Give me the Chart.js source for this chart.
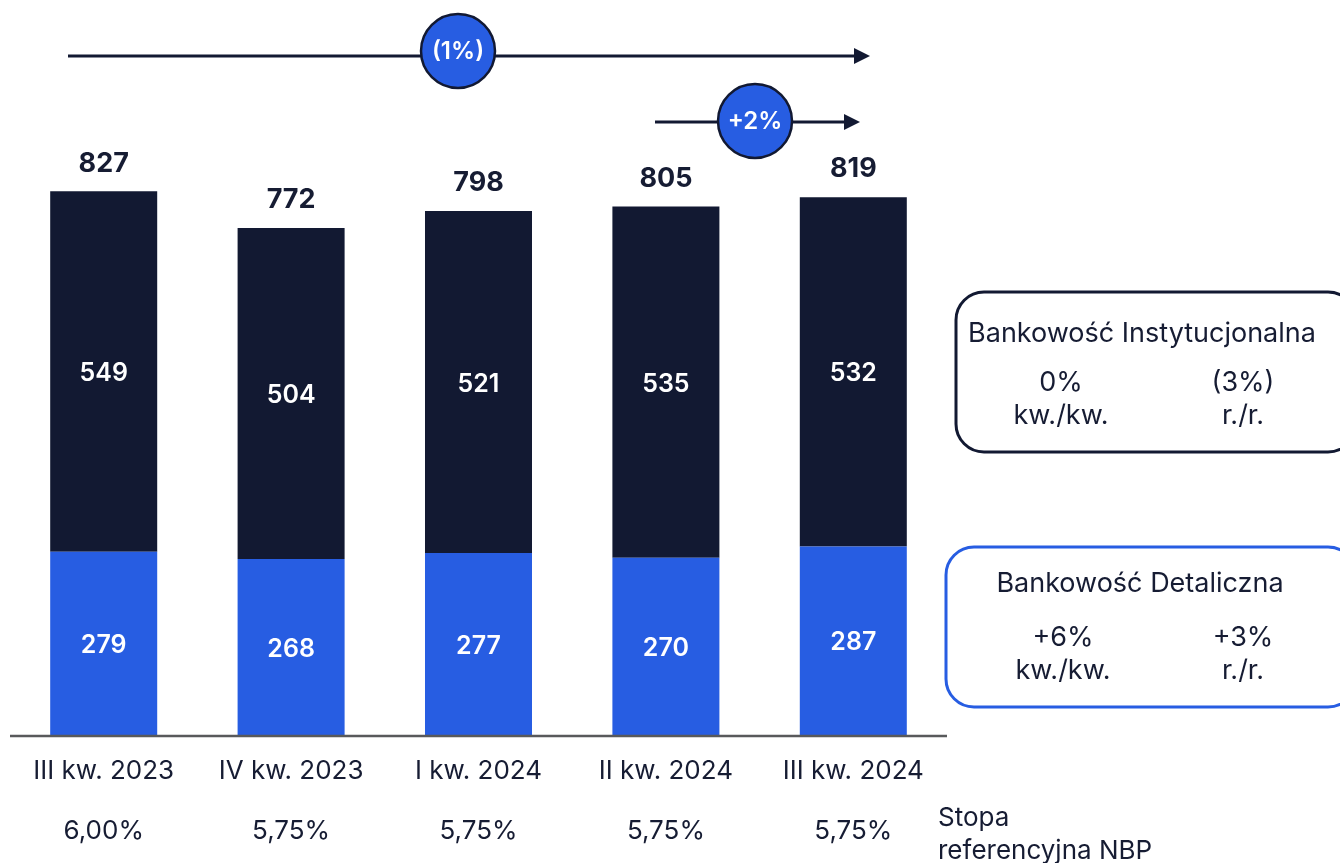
<!DOCTYPE html>
<html>
<head>
<meta charset="utf-8">
<script src="https://cdn.jsdelivr.net/npm/chart.js@4/dist/chart.umd.min.js"></script>
<style>
  html, body { margin: 0; padding: 0; background: #ffffff; }
  #wrap { position: relative; width: 1340px; height: 863px; }
</style>
</head>
<body>
<div id="wrap"><canvas id="chart" width="1340" height="863"></canvas></div>
<script>
var categories = ['III kw. 2023', 'IV kw. 2023', 'I kw. 2024', 'II kw. 2024', 'III kw. 2024'];
var retailValues = [279, 268, 277, 270, 287];
var corporateValues = [549, 504, 521, 535, 532];
var totalValues = [827, 772, 798, 805, 819];
var nbpRates = ['6,00%', '5,75%', '5,75%', '5,75%', '5,75%'];

var NAVY = '#121932';
var BLUE = '#275de2';
var TEXT = '#161c33';
var FONT = 'Inter, "Open Sans", sans-serif';

// draws totals, in-bar values, axis line, labels, arrows and the side boxes
var overlayPlugin = {
  id: 'overlay',
  afterDatasetsDraw: function (chart) {
    var ctx = chart.ctx;
    var xScale = chart.scales.x;
    var yScale = chart.scales.y;
    var area = chart.chartArea;

    ctx.save();
    ctx.textAlign = 'center';
    ctx.textBaseline = 'middle';

    // values inside the segments
    chart.data.datasets.forEach(function (ds, di) {
      var meta = chart.getDatasetMeta(di);
      meta.data.forEach(function (bar, i) {
        ctx.fillStyle = '#ffffff';
        ctx.font = '600 25px ' + FONT;
        ctx.fillText(String(ds.data[i]), bar.x, (bar.y + bar.base) / 2 + 2);
      });
    });

    // totals
    for (var i = 0; i < categories.length; i++) {
      var x = xScale.getPixelForValue(i);
      var top = yScale.getPixelForValue(totalValues[i]);
      ctx.fillStyle = TEXT;
      ctx.font = '700 27px ' + FONT;
      ctx.fillText(String(totalValues[i]), x, top - 28);
    }

    // axis line
    ctx.strokeStyle = '#58595b';
    ctx.lineWidth = 2.5;
    ctx.beginPath();
    ctx.moveTo(area.left, area.bottom + 1);
    ctx.lineTo(area.right, area.bottom + 1);
    ctx.stroke();

    // category labels and NBP rates
    ctx.fillStyle = TEXT;
    ctx.font = '400 26px ' + FONT;
    for (var j = 0; j < categories.length; j++) {
      var cx = xScale.getPixelForValue(j);
      ctx.fillText(categories[j], cx, area.bottom + 36);
      ctx.fillText(nbpRates[j], cx, area.bottom + 96);
    }
    ctx.textAlign = 'left';
    ctx.fillText('Stopa', 938, 818);
    ctx.fillText('referencyjna NBP', 938, 851);

    // growth arrows
    function arrow(x1, x2, y) {
      ctx.strokeStyle = NAVY;
      ctx.fillStyle = NAVY;
      ctx.lineWidth = 3;
      ctx.beginPath();
      ctx.moveTo(x1, y);
      ctx.lineTo(x2 - 12, y);
      ctx.stroke();
      ctx.beginPath();
      ctx.moveTo(x2, y);
      ctx.lineTo(x2 - 16, y - 8);
      ctx.lineTo(x2 - 16, y + 8);
      ctx.closePath();
      ctx.fill();
    }
    function bubble(cx, cy, label) {
      ctx.beginPath();
      ctx.arc(cx, cy, 37, 0, Math.PI * 2);
      ctx.fillStyle = BLUE;
      ctx.fill();
      ctx.lineWidth = 2.5;
      ctx.strokeStyle = NAVY;
      ctx.stroke();
      ctx.fillStyle = '#ffffff';
      ctx.textAlign = 'center';
      ctx.font = '600 24px ' + FONT;
      ctx.fillText(label, cx, cy + 1);
    }
    arrow(68, 870, 56);
    bubble(458, 51, '(1%)');
    arrow(655, 860, 122);
    bubble(755, 121, '+2%');

    // side boxes
    function roundBox(x, y, w, h, r, color) {
      ctx.beginPath();
      ctx.moveTo(x + r, y);
      ctx.lineTo(x + w - r, y);
      ctx.arcTo(x + w, y, x + w, y + r, r);
      ctx.lineTo(x + w, y + h - r);
      ctx.arcTo(x + w, y + h, x + w - r, y + h, r);
      ctx.lineTo(x + r, y + h);
      ctx.arcTo(x, y + h, x, y + h - r, r);
      ctx.lineTo(x, y + r);
      ctx.arcTo(x, y, x + r, y, r);
      ctx.closePath();
      ctx.lineWidth = 3;
      ctx.strokeStyle = color;
      ctx.stroke();
    }
    roundBox(956, 292, 400, 160, 28, NAVY);
    roundBox(946, 547, 410, 160, 28, BLUE);

    ctx.fillStyle = TEXT;
    ctx.textAlign = 'center';
    ctx.font = '400 27px ' + FONT;
    ctx.fillText('Bankowość Instytucjonalna', 1142, 334);
    ctx.fillText('0%', 1061, 383);
    ctx.fillText('kw./kw.', 1061, 416);
    ctx.fillText('(3%)', 1243, 383);
    ctx.fillText('r./r.', 1243, 416);

    ctx.fillText('Bankowość Detaliczna', 1140, 584);
    ctx.fillText('+6%', 1063, 638);
    ctx.fillText('kw./kw.', 1063, 671);
    ctx.fillText('+3%', 1243, 638);
    ctx.fillText('r./r.', 1243, 671);

    ctx.restore();
  }
};

new Chart(document.getElementById('chart').getContext('2d'), {
  type: 'bar',
  data: {
    labels: categories,
    datasets: [
      { label: 'Bankowość Detaliczna', data: retailValues, backgroundColor: BLUE },
      { label: 'Bankowość Instytucjonalna', data: corporateValues, backgroundColor: NAVY }
    ]
  },
  options: {
    responsive: false,
    animation: false,
    layout: { padding: { left: 10, right: 393, top: 144, bottom: 128 } },
    datasets: { bar: { barPercentage: 0.571, categoryPercentage: 1 } },
    plugins: { legend: { display: false }, tooltip: { enabled: false } },
    scales: {
      x: { stacked: true, display: false },
      y: { stacked: true, display: false, min: 0, max: 900 }
    }
  },
  plugins: [overlayPlugin]
});
</script>
</body>
</html>
